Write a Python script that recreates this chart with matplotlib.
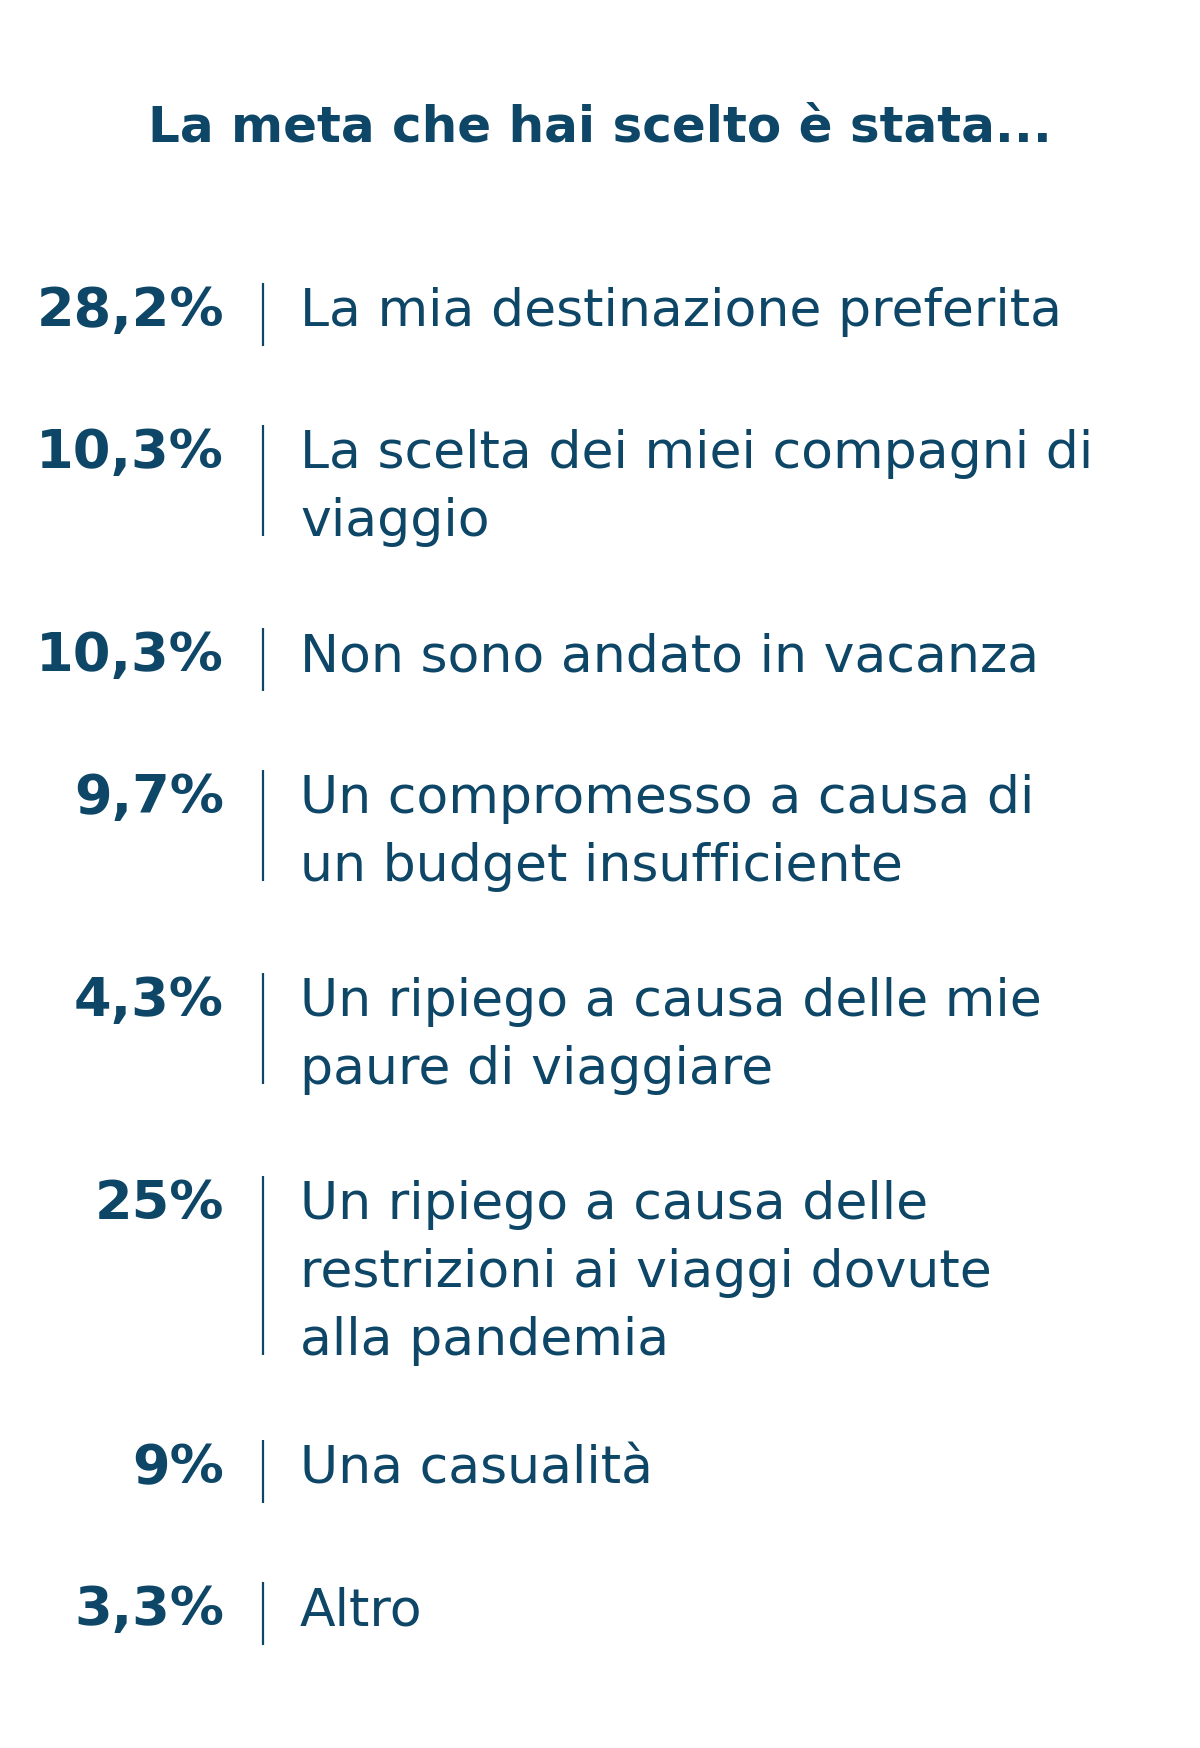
import matplotlib
matplotlib.use("Agg")
import matplotlib.pyplot as plt

# dati del sondaggio
title = "La meta che hai scelto è stata..."
values = [28.2, 10.3, 10.3, 9.7, 4.3, 25, 9, 3.3]
labels = [
    "La mia destinazione preferita",
    "La scelta dei miei compagni di\nviaggio",
    "Non sono andato in vacanza",
    "Un compromesso a causa di\nun budget insufficiente",
    "Un ripiego a causa delle mie\npaure di viaggiare",
    "Un ripiego a causa delle\nrestrizioni ai viaggi dovute\nalla pandemia",
    "Una casualità",
    "Altro",
]

color = "#0d4666"
W, H = 1200, 1748

fig = plt.figure(figsize=(W / 100, H / 100), dpi=100)
ax = fig.add_axes([0, 0, 1, 1])
ax.set_xlim(0, W)
ax.set_ylim(H, 0)
ax.axis("off")

ax.text(600, 142, title, ha="center", va="baseline", color=color,
        fontsize=36, fontweight="bold", family="DejaVu Sans")

top = 283
line_gap = 68  # distanza tra le righe di una voce
for v, lab in zip(values, labels):
    rows = lab.split("\n")
    n = len(rows)
    base = top + 43
    pct = f"{v:g}".replace(".", ",") + "%"
    ax.text(224, base, pct, ha="right", va="baseline", color=color,
            fontsize=39, fontweight="bold", family="DejaVu Sans")
    for k, r in enumerate(rows):
        ax.text(300, base + k * line_gap, r, ha="left", va="baseline",
                color=color, fontsize=37.5, family="DejaVu Sans")
    bottom = top + max(63, 43 + (n - 1) * line_gap)
    ax.plot([263, 263], [top, bottom], color=color, lw=1.6,
            solid_capstyle="butt")
    top += 142 + (n - 1) * 61

fig.savefig("out.png", dpi=100, facecolor="white")
